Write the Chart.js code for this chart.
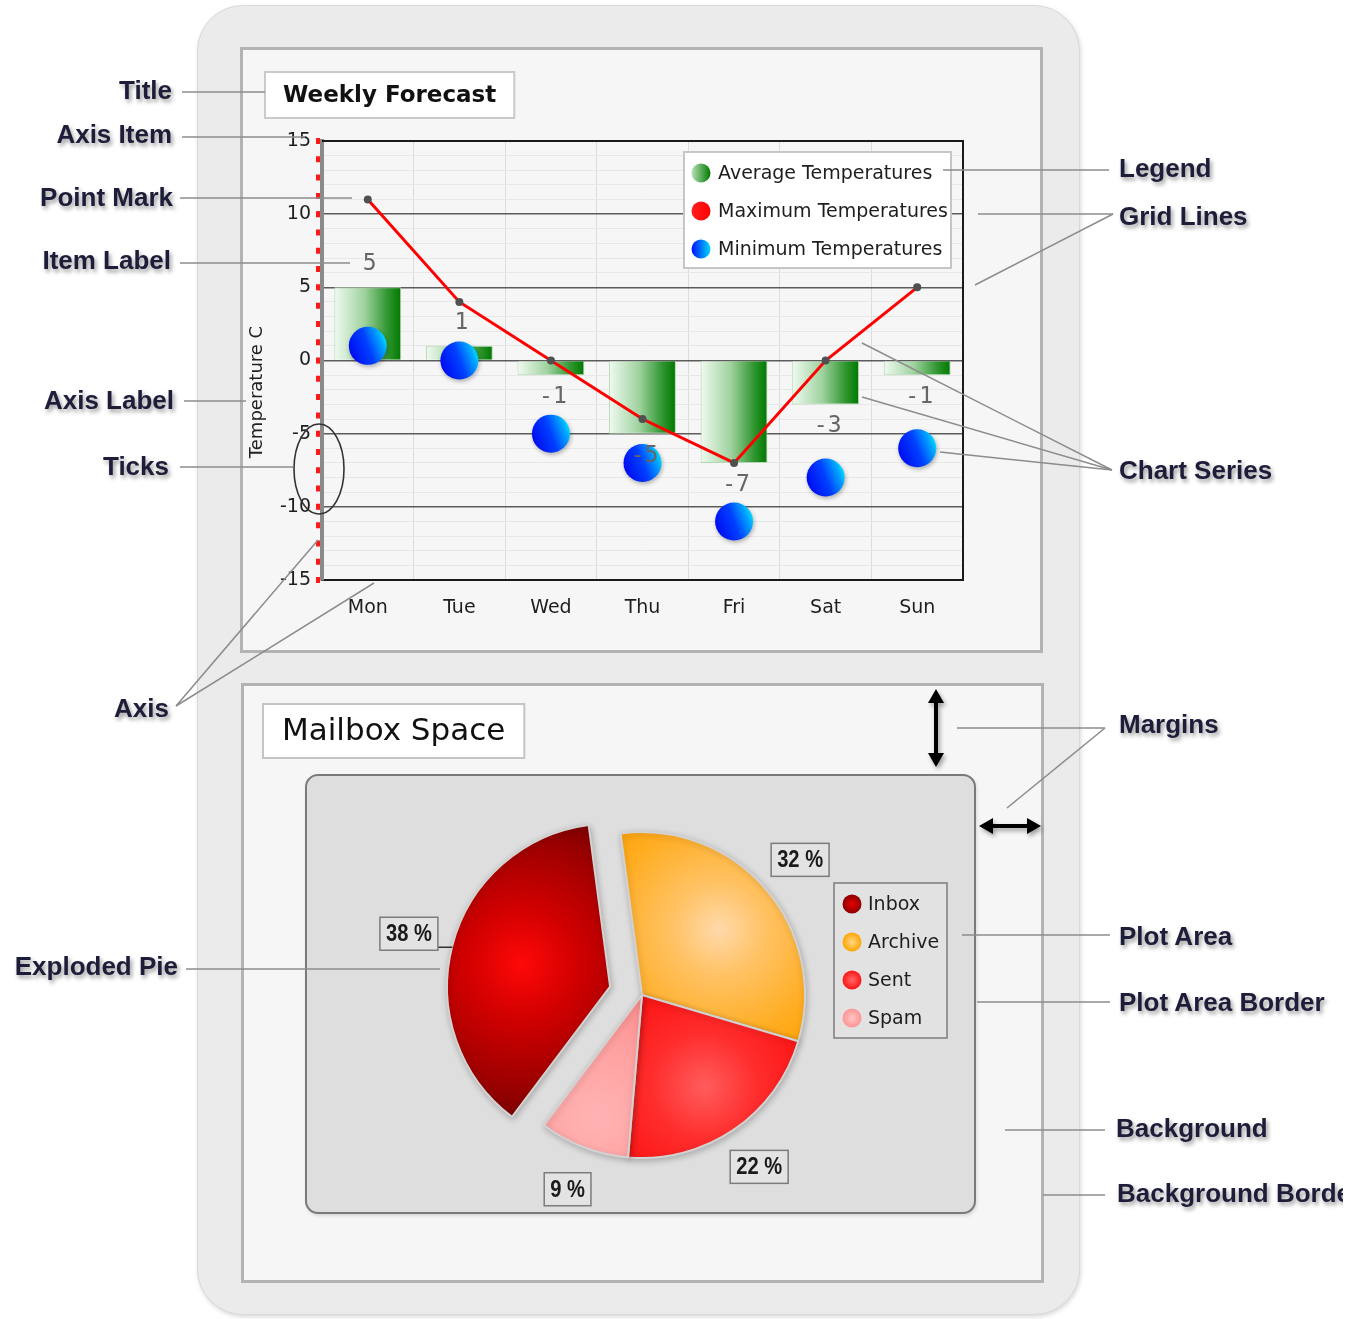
<!DOCTYPE html>
<html>
<head>
<meta charset="utf-8">
<script src="https://cdn.jsdelivr.net/npm/chart.js@4.4.1/dist/chart.umd.min.js"></script>
<style>
html,body{margin:0;padding:0;background:#ffffff;}
body{width:1357px;height:1319px;position:relative;overflow:hidden;}
#outer{position:absolute;left:197px;top:5px;width:883px;height:1310px;background:#ebebeb;border-radius:46px;border:1px solid #d9d9d9;box-shadow:1px 2px 4px rgba(0,0,0,0.15);box-sizing:border-box;}
.panel{position:absolute;background:#f6f6f6;border:3px solid #b3b3b3;box-sizing:border-box;}
#p1{left:240px;top:47px;width:803px;height:606px;}
#p2{left:241px;top:683px;width:803px;height:600px;}
#c1{position:absolute;left:240px;top:47px;}
#c2{position:absolute;left:241px;top:683px;}
#ann{position:absolute;left:0;top:0;width:1343px;height:1319px;overflow:hidden;pointer-events:none;}
#ann svg{position:absolute;left:0;top:0;}
.lbl{position:absolute;font:bold 26px "Liberation Sans",Arial,sans-serif;color:#1d1d3a;text-shadow:2px 3px 4px rgba(0,0,0,0.4);white-space:nowrap;line-height:30px;height:30px;}
.lft{left:0;text-align:right;}
</style>
</head>
<body>
<div id="outer"></div>
<div class="panel" id="p1"></div>
<div class="panel" id="p2"></div>
<canvas id="c1" width="803" height="606"></canvas>
<canvas id="c2" width="803" height="600"></canvas>
<div id="ann"></div>
<script>
// ---------------- DATA ----------------
const days = ['Mon', 'Tue', 'Wed', 'Thu', 'Fri', 'Sat', 'Sun'];
const avgTemps = [5, 1, -1, -5, -7, -3, -1];
const maxTemps = [11, 4, 0, -4, -7, 0, 5];
const minTemps = [1, 0, -5, -7, -11, -8, -6];
const seriesNames = ['Average Temperatures', 'Maximum Temperatures', 'Minimum Temperatures'];
const yMin = -15, yMax = 15, yMajorStep = 5, yMinorStep = 1;
const weeklyTitle = 'Weekly Forecast';
const yAxisTitle = 'Temperature C';

const mailLabels = ['Inbox', 'Archive', 'Sent', 'Spam'];
const mailValues = [38, 32, 22, 9];
const mailTitle = 'Mailbox Space';
const explodedSlice = 'Inbox';

// annotation callouts (text only)
const leftNotes = ['Title', 'Axis Item', 'Point Mark', 'Item Label', 'Axis Label', 'Ticks', 'Axis', 'Exploded Pie'];
const rightNotes = ['Legend', 'Grid Lines', 'Chart Series', 'Margins', 'Plot Area', 'Plot Area Border', 'Background', 'Background Border'];

// ---------------- STYLE / LAYOUT ----------------
Chart.defaults.font.family = '"DejaVu Sans", Verdana, sans-serif';
const BAR_FRAC = 0.73;
const BALL_R = 19;
const PIE_R = 163;
const PIE_ROT = 217;
const EXPLODE_PX = 33;
const fin = (...v) => v.every(n => Number.isFinite(n));

function barGrad(c) {
  const ch = c.chart, xs = ch.scales.x;
  if (!xs || c.dataIndex === undefined) return '#3a9a3a';
  const cx = xs.getPixelForValue(c.dataIndex);
  const hw = xs.width / days.length * BAR_FRAC / 2;
  if (!fin(cx, hw) || hw <= 0) return '#3a9a3a';
  const g = ch.ctx.createLinearGradient(cx - hw, 0, cx + hw, 0);
  g.addColorStop(0, '#f0faf0');
  g.addColorStop(0.45, '#9fd29f');
  g.addColorStop(0.8, '#2f962f');
  g.addColorStop(1, '#007800');
  return g;
}
function ballGrad(c) {
  const ch = c.chart, xs = ch.scales.x, ys = ch.scales.y;
  if (!xs || !ys || c.dataIndex === undefined) return '#0040ff';
  const cx = xs.getPixelForValue(c.dataIndex);
  const cy = ys.getPixelForValue(minTemps[c.dataIndex]);
  if (!fin(cx, cy)) return '#0040ff';
  const g = ch.ctx.createLinearGradient(cx - BALL_R, cy + BALL_R * 0.4, cx + BALL_R, cy - BALL_R * 0.4);
  g.addColorStop(0, '#0008f0');
  g.addColorStop(0.5, '#0040ff');
  g.addColorStop(0.85, '#00a8ff');
  g.addColorStop(1, '#00e8ff');
  return g;
}

// ---------------- TOP CHART PLUGINS ----------------
const topDecor = {
  id: 'topDecor',
  beforeDraw(chart) {
    const ctx = chart.ctx;
    ctx.save();
    ctx.font = 'bold 23px "DejaVu Sans"';
    const tw = ctx.measureText(weeklyTitle).width;
    ctx.fillStyle = '#ffffff';
    ctx.fillRect(25, 25, tw + 36, 46);
    ctx.strokeStyle = '#cacaca';
    ctx.lineWidth = 2;
    ctx.strokeRect(25, 25, tw + 36, 46);
    ctx.fillStyle = '#111';
    ctx.textBaseline = 'middle';
    ctx.fillText(weeklyTitle, 43, 49);
    ctx.translate(17, 345);
    ctx.rotate(-Math.PI / 2);
    ctx.font = '18px "DejaVu Sans"';
    ctx.textAlign = 'center';
    ctx.fillStyle = '#222';
    ctx.fillText(yAxisTitle, 0, 0);
    ctx.restore();
  },
  beforeDatasetsDraw(chart) {
    const ctx = chart.ctx, a = chart.chartArea, ys = chart.scales.y;
    ctx.save();
    ctx.strokeStyle = '#1a1a1a';
    ctx.lineWidth = 2;
    ctx.beginPath();
    ctx.moveTo(a.left, a.top); ctx.lineTo(a.right, a.top); ctx.lineTo(a.right, a.bottom);
    ctx.stroke();
    ctx.strokeStyle = '#ff1a1a';
    ctx.lineWidth = 4;
    const span = ys.getPixelForValue(yMin) - ys.getPixelForValue(yMax);
    const per = span / ((yMax - yMin) / yMajorStep) / 4;
    ctx.setLineDash([6, per - 6]);
    ctx.beginPath();
    ctx.moveTo(a.left - 4, ys.getPixelForValue(yMax) - 3);
    ctx.lineTo(a.left - 4, ys.getPixelForValue(yMin) + 3);
    ctx.stroke();
    ctx.restore();
  },
  beforeDatasetDraw(chart, args) {
    if (args.index === 2) {
      const ctx = chart.ctx;
      ctx.save();
      ctx.shadowColor = 'rgba(0,0,0,0.3)';
      ctx.shadowBlur = 4;
      ctx.shadowOffsetX = 1;
      ctx.shadowOffsetY = 2;
    }
  },
  afterDatasetDraw(chart, args) {
    if (args.index === 2) chart.ctx.restore();
  },
  afterDatasetsDraw(chart) {
    const ctx = chart.ctx, a = chart.chartArea;
    ctx.save();
    const meta = chart.getDatasetMeta(0);
    ctx.font = '23px "DejaVu Sans Mono", monospace';
    ctx.fillStyle = '#666';
    ctx.textAlign = 'center';
    ctx.textBaseline = 'middle';
    meta.data.forEach((el, i) => {
      const v = avgTemps[i];
      const y = v >= 0 ? el.y - 23 : el.y + 22;
      ctx.fillText(String(v), el.x + 2, y);
    });
    const w = 267, h = 116, x = a.right - 12 - w, y = a.top + 11;
    ctx.fillStyle = '#ffffff';
    ctx.fillRect(x, y, w, h);
    ctx.strokeStyle = '#c6c6c6';
    ctx.lineWidth = 2;
    ctx.strokeRect(x, y, w, h);
    ctx.font = '19px "DejaVu Sans"';
    ctx.textAlign = 'left';
    const markers = [
      ['#b8e0b8', '#007a00'],
      ['#ff2020', '#ff0000'],
      ['#0010ff', '#00d8ff']
    ];
    chart.data.datasets.forEach((ds, i) => {
      const cy = y + 21 + i * 38, cx = x + 17, r = 9.5;
      const g = ctx.createLinearGradient(cx - r, cy, cx + r, cy);
      g.addColorStop(0, markers[i][0]);
      g.addColorStop(1, markers[i][1]);
      ctx.fillStyle = g;
      ctx.beginPath(); ctx.arc(cx, cy, r, 0, Math.PI * 2); ctx.fill();
      ctx.fillStyle = '#1e1e1e';
      ctx.fillText(ds.label, x + 34, cy + 1);
    });
    ctx.restore();
  }
};

new Chart(document.getElementById('c1'), {
  type: 'bar',
  data: {
    labels: days,
    datasets: [
      {
        type: 'bar', label: seriesNames[0], data: avgTemps, order: 3,
        backgroundColor: barGrad, borderColor: '#b4d6b4', borderWidth: 1,
        categoryPercentage: BAR_FRAC, barPercentage: 1
      },
      {
        type: 'line', label: seriesNames[1], data: maxTemps, order: 2,
        borderColor: '#ff0000', borderWidth: 3, tension: 0,
        pointRadius: 4, pointBackgroundColor: '#505050', pointBorderColor: '#505050', pointBorderWidth: 0
      },
      {
        type: 'line', label: seriesNames[2], data: minTemps, order: 1, showLine: false,
        pointRadius: BALL_R, pointHoverRadius: BALL_R, pointBackgroundColor: ballGrad,
        pointBorderWidth: 0, borderColor: 'rgba(0,0,0,0)'
      }
    ]
  },
  options: {
    responsive: false, animation: false, events: [],
    layout: { padding: { left: 0, top: 94, right: 80, bottom: 23 } },
    plugins: { legend: { display: false }, tooltip: { enabled: false }, title: { display: false } },
    scales: {
      x: {
        offset: true,
        grid: { color: '#dcdcdc', lineWidth: 1, drawTicks: false, offset: true },
        border: { color: '#1a1a1a', width: 2 },
        ticks: { color: '#1e1e1e', font: { size: 19 }, padding: 17, maxRotation: 0, autoSkip: false },
        afterFit(s) { s.height = 50; }
      },
      y: {
        min: yMin, max: yMax,
        ticks: {
          stepSize: yMinorStep, autoSkip: false, color: '#1e1e1e', font: { size: 19 }, padding: 6,
          callback: v => (v % yMajorStep === 0 ? String(v) : '')
        },
        grid: {
          color: c => (c.tick && c.tick.value % yMajorStep === 0 ? '#5c5c5c' : '#e7e7e7'),
          lineWidth: c => (c.tick && c.tick.value % yMajorStep === 0 ? 1.5 : 1),
          tickColor: c => (c.tick && c.tick.value % yMajorStep === 0 ? '#ff0000' : 'rgba(0,0,0,0)'),
          tickLength: 5, tickWidth: 5, drawTicks: true
        },
        border: { color: '#8a8a8a', width: 4 },
        afterFit(s) { s.width = 82; }
      }
    }
  },
  plugins: [topDecor]
});

// ---------------- PIE CHART ----------------
const pieStyles = [
  { at: 0.56, spread: 1.0, stops: [[0, '#ff0808'], [0.35, '#d00000'], [0.75, '#9c0000'], [1, '#740000']], mark: ['#e00000', '#8a0000'] },
  { at: 0.62, spread: 0.95, stops: [[0, '#ffd9ab'], [0.3, '#ffc264'], [0.7, '#ffad22'], [1, '#ffa000']], mark: ['#ffd27a', '#ffa500'] },
  { at: 0.68, spread: 0.95, stops: [[0, '#ff5c5c'], [0.35, '#ff2c2c'], [1, '#fa0000']], mark: ['#ff6060', '#ff1515'] },
  { at: 0.8, spread: 0.9, stops: [[0, '#ffb3b3'], [0.6, '#ff9c9c'], [1, '#ff8686']], mark: ['#ffc0c0', '#ff9494'] }
];
function pieGeom(chart, i) {
  const a = chart.chartArea;
  const tot = mailValues.reduce((s, v) => s + v, 0);
  let cum = 0;
  for (let k = 0; k < i; k++) cum += mailValues[k];
  const start = (PIE_ROT - 90) * Math.PI / 180 + cum / tot * 2 * Math.PI;
  const mid = start + mailValues[i] / tot * Math.PI;
  let cx = (a.left + a.right) / 2, cy = (a.top + a.bottom) / 2;
  if (mailLabels[i] === explodedSlice) { cx += Math.cos(mid) * EXPLODE_PX; cy += Math.sin(mid) * EXPLODE_PX; }
  return { cx, cy, mid };
}
function pieGrad(c) {
  const ch = c.chart;
  if (!ch.chartArea || c.dataIndex === undefined) return '#cc0000';
  const i = c.dataIndex, st = pieStyles[i];
  const { cx, cy, mid } = pieGeom(ch, i);
  const gx = cx + Math.cos(mid) * PIE_R * st.at, gy = cy + Math.sin(mid) * PIE_R * st.at;
  if (!fin(gx, gy)) return st.stops[1][1];
  const g = ch.ctx.createRadialGradient(gx, gy, 0, gx, gy, PIE_R * st.spread);
  st.stops.forEach(([o, col]) => g.addColorStop(o, col));
  return g;
}

const pieDecor = {
  id: 'pieDecor',
  afterDatasetUpdate(chart) {
    const meta = chart.getDatasetMeta(0);
    meta.data.forEach((el, i) => {
      if (mailLabels[i] === explodedSlice) {
        const mid = (el.startAngle + el.endAngle) / 2;
        el.x += Math.cos(mid) * EXPLODE_PX;
        el.y += Math.sin(mid) * EXPLODE_PX;
      }
    });
  },
  beforeDraw(chart) {
    const ctx = chart.ctx;
    ctx.save();
    ctx.font = '31px "DejaVu Sans"';
    const tw = ctx.measureText(mailTitle).width;
    ctx.fillStyle = '#ffffff';
    ctx.fillRect(22, 21, tw + 38, 54);
    ctx.strokeStyle = '#c4c4c4';
    ctx.lineWidth = 2;
    ctx.strokeRect(22, 21, tw + 38, 54);
    ctx.fillStyle = '#111';
    ctx.textBaseline = 'middle';
    ctx.fillText(mailTitle, 41, 49);
    const x = 65, y = 92, w = 669, h = 438, r = 12;
    ctx.shadowColor = 'rgba(0,0,0,0.18)';
    ctx.shadowBlur = 4; ctx.shadowOffsetX = 1; ctx.shadowOffsetY = 2;
    ctx.beginPath();
    if (ctx.roundRect) ctx.roundRect(x, y, w, h, r); else ctx.rect(x, y, w, h);
    ctx.fillStyle = '#dedede';
    ctx.fill();
    ctx.shadowColor = 'rgba(0,0,0,0)';
    ctx.strokeStyle = '#7a7a7a';
    ctx.lineWidth = 2;
    ctx.stroke();
    ctx.restore();
  },
  beforeDatasetDraw(chart) {
    const ctx = chart.ctx;
    ctx.save();
    ctx.shadowColor = 'rgba(0,0,0,0.22)';
    ctx.shadowBlur = 6;
    ctx.shadowOffsetX = 1;
    ctx.shadowOffsetY = 2;
  },
  afterDatasetDraw(chart) { chart.ctx.restore(); },
  afterDatasetsDraw(chart) {
    const ctx = chart.ctx;
    const meta = chart.getDatasetMeta(0);
    const SQ = 0.84;
    ctx.save();
    ctx.font = 'bold 24px "Liberation Sans", Arial, sans-serif';
    ctx.textAlign = 'center';
    ctx.textBaseline = 'middle';
    meta.data.forEach((el, i) => {
      const mid = (el.startAngle + el.endAngle) / 2;
      const rr = el.outerRadius + 45;
      const x = el.x + Math.cos(mid) * rr, y = el.y + Math.sin(mid) * rr;
      const txt = mailValues[i] + ' %';
      const w = ctx.measureText(txt).width * SQ + 12, h = 33;
      if (mailLabels[i] === explodedSlice) {
        const px = el.x + Math.cos(mid) * el.outerRadius, py = el.y + Math.sin(mid) * el.outerRadius;
        const dx = px - x, dy = py - y;
        const t = Math.min((w / 2) / Math.abs(dx || 1e-6), (h / 2) / Math.abs(dy || 1e-6));
        ctx.strokeStyle = '#333'; ctx.lineWidth = 1.5;
        ctx.beginPath(); ctx.moveTo(x + dx * t, y + dy * t + 6); ctx.lineTo(px, py + 2); ctx.stroke();
      }
      ctx.fillStyle = '#e3e3e3';
      ctx.fillRect(x - w / 2, y - h / 2, w, h);
      ctx.strokeStyle = '#7c7c7c'; ctx.lineWidth = 1.5;
      ctx.strokeRect(x - w / 2, y - h / 2, w, h);
      ctx.fillStyle = '#1a1a1a';
      ctx.save();
      ctx.translate(x, y + 1);
      ctx.scale(SQ, 1);
      ctx.fillText(txt, 0, 0);
      ctx.restore();
    });
    const lx = 593, ly = 200, lw = 113, lh = 155;
    ctx.fillStyle = '#e2e2e2';
    ctx.fillRect(lx, ly, lw, lh);
    ctx.strokeStyle = '#7c7c7c'; ctx.lineWidth = 1.5;
    ctx.strokeRect(lx, ly, lw, lh);
    ctx.font = '19px "DejaVu Sans"';
    ctx.textAlign = 'left';
    mailLabels.forEach((lab, i) => {
      const cy = ly + 21 + i * 38, cx = lx + 18, r = 9.5;
      const g = ctx.createRadialGradient(cx, cy, 1, cx, cy, r);
      g.addColorStop(0, pieStyles[i].mark[0]);
      g.addColorStop(1, pieStyles[i].mark[1]);
      ctx.fillStyle = g;
      ctx.beginPath(); ctx.arc(cx, cy, r, 0, Math.PI * 2); ctx.fill();
      ctx.fillStyle = '#1e1e1e';
      ctx.fillText(lab, lx + 34, cy + 1);
    });
    ctx.restore();
  }
};

new Chart(document.getElementById('c2'), {
  type: 'pie',
  data: {
    labels: mailLabels,
    datasets: [{ data: mailValues, backgroundColor: pieGrad, borderColor: '#d2d2d2', borderWidth: 2, hoverOffset: 0 }]
  },
  options: {
    responsive: false, animation: false, events: [],
    radius: PIE_R, rotation: PIE_ROT,
    layout: { padding: { left: 100, right: 101, top: 124, bottom: 100 } },
    plugins: { legend: { display: false }, tooltip: { enabled: false } }
  },
  plugins: [pieDecor]
});

// ---------------- CALLOUT ANNOTATIONS ----------------
const ann = document.getElementById('ann');
const leftPos = [[172, 90], [172, 134], [173, 197], [171, 260], [174, 400], [169, 466], [169, 708], [178, 966]];
const rightPos = [[1119, 168], [1119, 216], [1119, 470], [1119, 724], [1119, 936], [1119, 1002], [1116, 1128], [1117, 1193]];
leftNotes.forEach((t, i) => {
  const d = document.createElement('div');
  d.className = 'lbl lft';
  d.style.width = leftPos[i][0] + 'px';
  d.style.top = (leftPos[i][1] - 15) + 'px';
  d.textContent = t;
  ann.appendChild(d);
});
rightNotes.forEach((t, i) => {
  const d = document.createElement('div');
  d.className = 'lbl';
  d.style.left = rightPos[i][0] + 'px';
  d.style.top = (rightPos[i][1] - 15) + 'px';
  d.textContent = t;
  ann.appendChild(d);
});
const leaders = [
  [182, 92, 265, 92], [182, 137, 305, 137], [180, 198, 352, 198], [180, 263, 350, 263],
  [184, 401, 246, 401], [180, 467, 293, 467], [176, 706, 318, 540], [176, 706, 374, 583],
  [186, 969, 440, 969],
  [943, 170, 1109, 170], [978, 214, 1113, 214], [975, 285, 1113, 214],
  [862, 343, 1112, 470], [862, 397, 1112, 470], [940, 452, 1112, 470],
  [957, 728, 1105, 728], [1007, 808, 1105, 728],
  [962, 935, 1110, 935], [977, 1002, 1110, 1002], [1005, 1130, 1105, 1130], [1043, 1195, 1105, 1195]
];
let svg = '<svg width="1343" height="1319" xmlns="http://www.w3.org/2000/svg">' +
  '<defs><filter id="sh" x="-20%" y="-20%" width="140%" height="140%"><feDropShadow dx="2" dy="3" stdDeviation="2" flood-color="#000" flood-opacity="0.35"/></filter></defs>';
leaders.forEach(l => {
  svg += `<line x1="${l[0]}" y1="${l[1]}" x2="${l[2]}" y2="${l[3]}" stroke="#8c8c8c" stroke-width="1.5"/>`;
});
svg += '<ellipse cx="319" cy="469" rx="25" ry="45" fill="none" stroke="#333" stroke-width="1.6"/>';
svg += '<g filter="url(#sh)" fill="#000" stroke="#000">' +
  '<line x1="936" y1="700" x2="936" y2="756" stroke-width="4"/>' +
  '<polygon points="936,689 928,703 944,703" stroke="none"/>' +
  '<polygon points="936,767 928,753 944,753" stroke="none"/>' +
  '<line x1="990" y1="826" x2="1030" y2="826" stroke-width="4"/>' +
  '<polygon points="979,826 993,818 993,834" stroke="none"/>' +
  '<polygon points="1041,826 1027,818 1027,834" stroke="none"/>' +
  '</g></svg>';
ann.insertAdjacentHTML('afterbegin', svg);
</script>
</body>
</html>
